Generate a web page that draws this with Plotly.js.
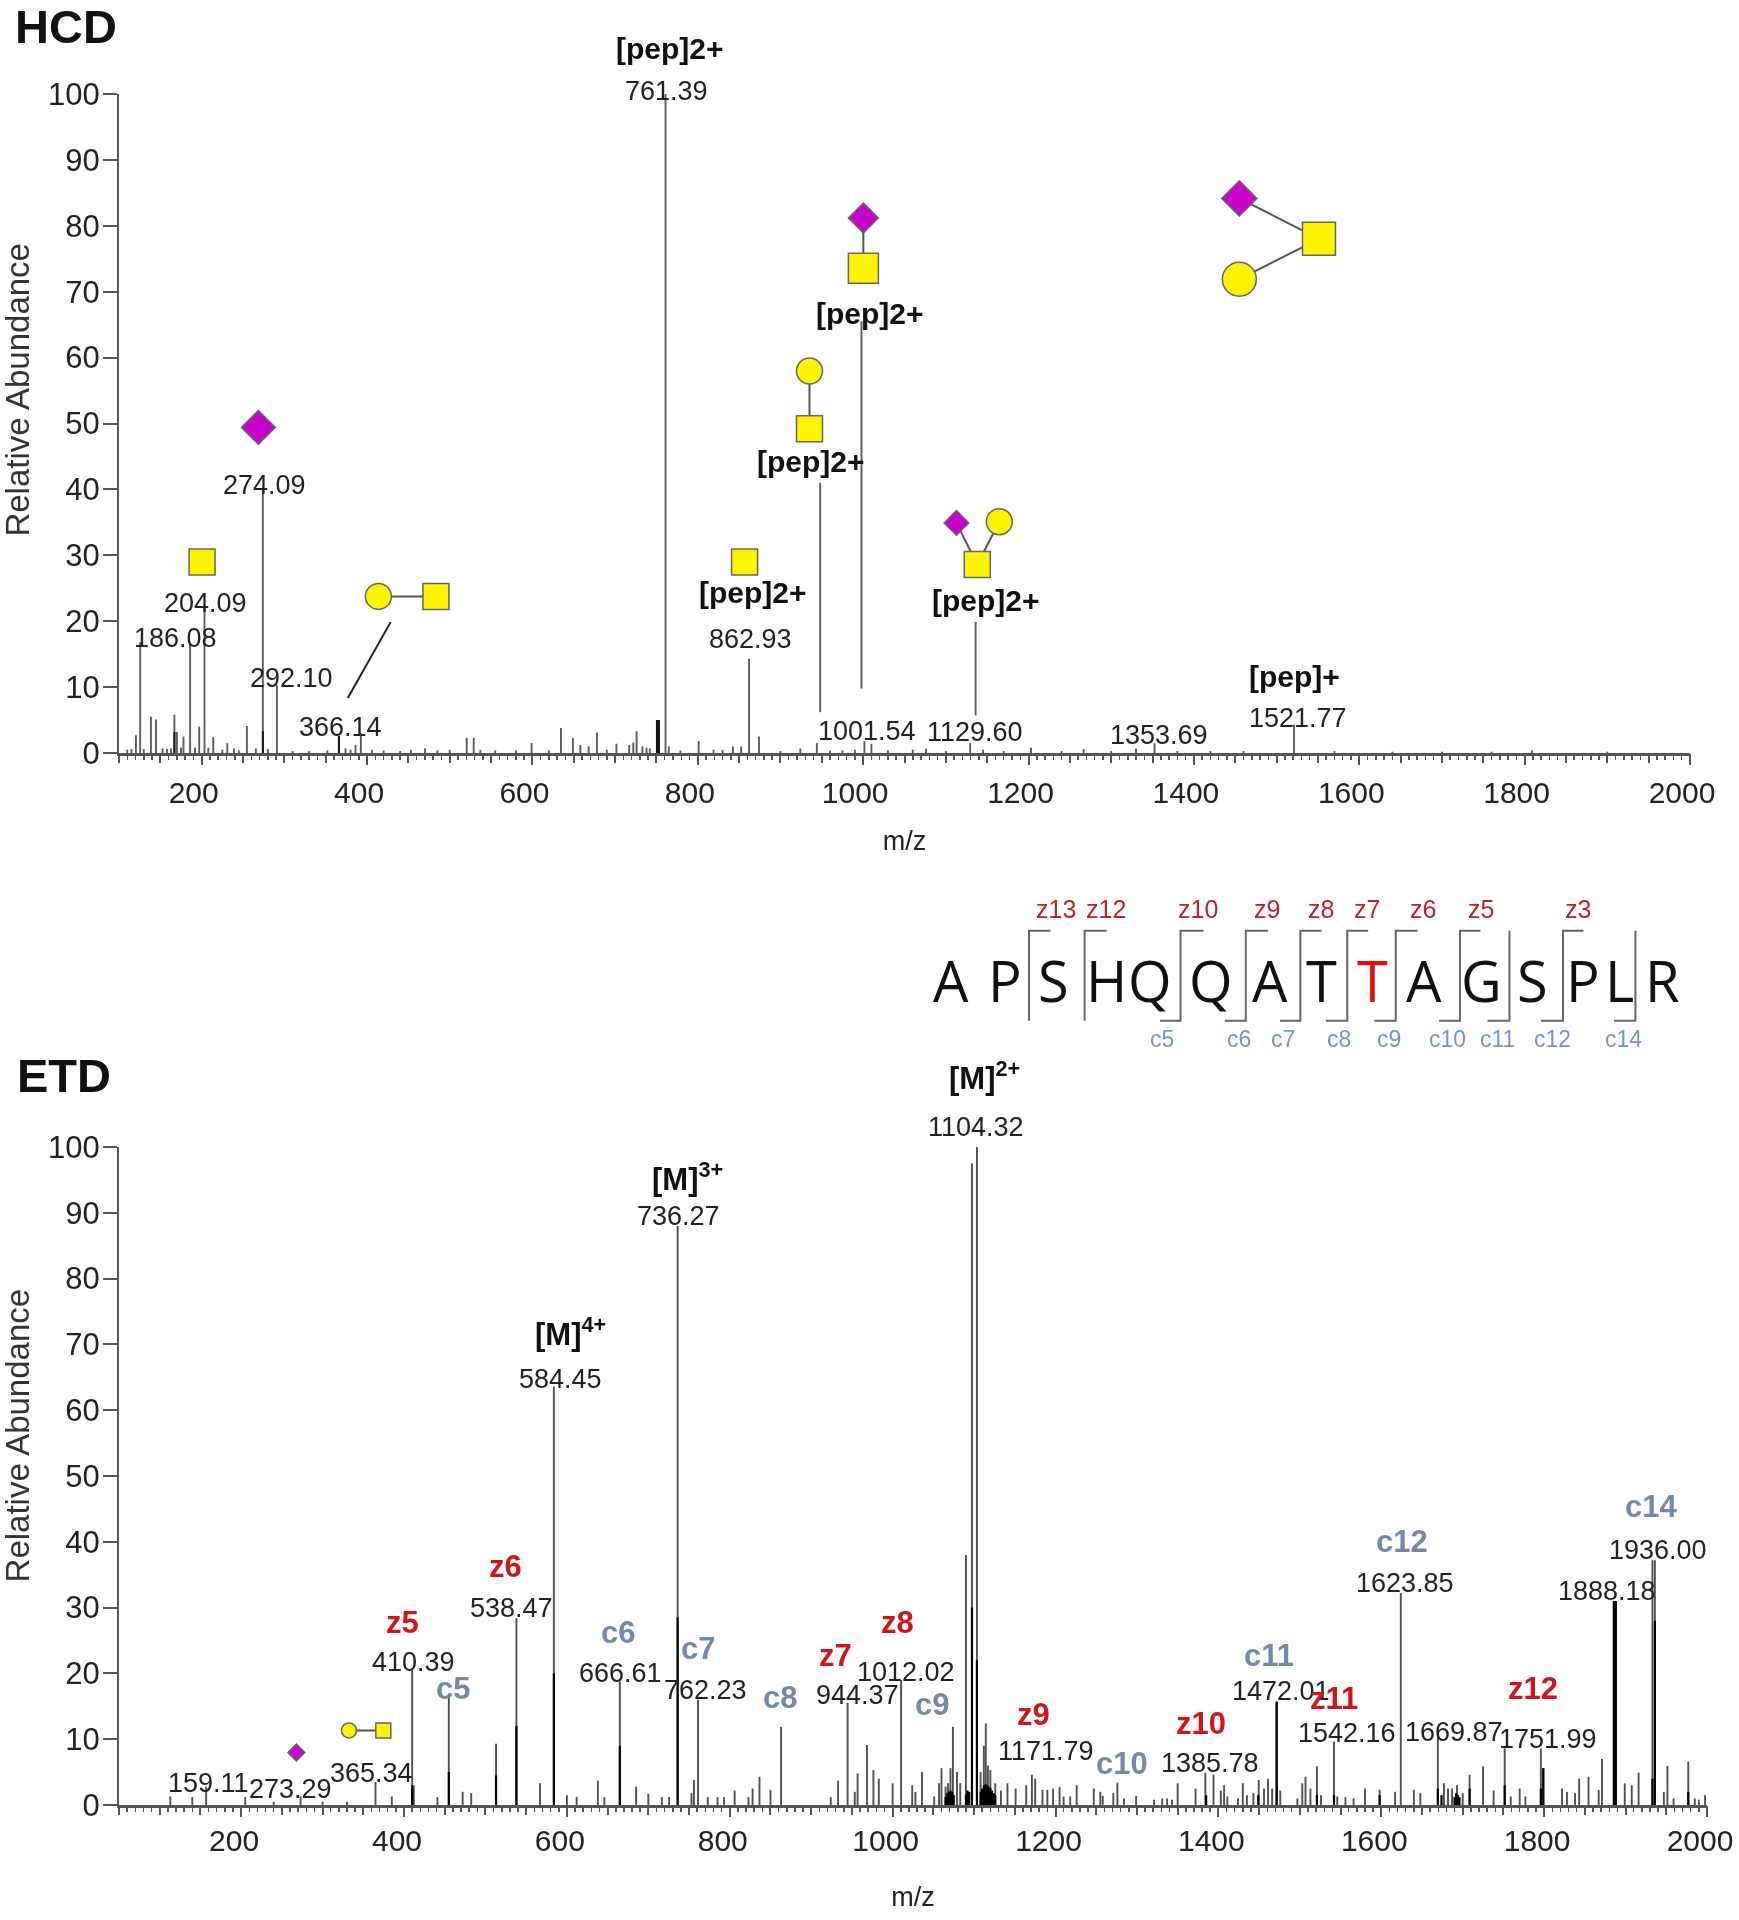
<!DOCTYPE html>
<html>
<head>
<meta charset="utf-8">
<script src="https://cdn.plot.ly/plotly-3.0.1.min.js"></script>
<style>html,body{margin:0;padding:0;background:#fff}#chart{width:1739px;height:1920px;filter:blur(0.45px)}</style>
</head>
<body>
<div id="chart"></div>
<script>
// ---------- HCD spectrum ----------
const hcdMz  = [110,115,120.5,125.6,130,138.6,144.7,152.7,158,163,167,170,175,178,186,192,197,203.4,208,214,225,231,239,245,254.7,265.5,274,280,291,310,330,352,366,374,380,386,392.5,406,420,440,453,470,485,500,520.5,529,537,555,580,599,620,634.5,649,658,668,678,690,701.6,717,722,726,733,738,742,750.6,753,761,765,779,801,819,830,842.5,852.5,862,874,900,924,944,960,975,990,1001.5,1010,1030,1060,1076,1100,1129.4,1145,1170,1203,1240,1266.7,1300,1330,1352.4,1380,1420,1460,1521,1570,1640,1700,1760,1809,1900];
const hcdInt = [0.5,0.6,2.7,16.8,0.6,5.5,5.1,0.7,0.6,0.7,5.8,3.2,0.8,2.5,16.6,0.8,4,22,0.8,2.4,0.5,1.5,0.7,0.4,4.1,0.7,40,0.6,10.3,0.3,0.3,0.4,2.6,0.7,0.5,1.2,3,0.5,0.4,0.3,0.5,0.7,0.4,0.5,2.3,2.3,0.5,0.4,0.4,1.5,0.4,3.8,2.3,1.2,1,3.1,0.5,1.4,1.2,1.6,3.3,1,0.8,0.7,5,5,100,1,0.4,1.8,0.5,0.5,1,1,14.3,2.5,0.3,0.7,1.5,0.4,0.4,0.5,1.8,1.4,0.4,0.5,0.7,0.3,1.5,0.5,0.3,0.8,0.3,0.6,0.3,0.7,1.5,0.3,0.3,0.3,4.3,0.3,0.2,0.2,0.2,0.4,0.2];
const hcdStrongMz  = [167,274,366,750.6,753];
const hcdStrongInt = [3.2,3.3,2.6,5,5];
const hcdCutMz   = [948,998,1136];
const hcdCutLow  = [6.2,9.8,5.7];
const hcdCutHigh = [41,65.5,19.9];

// ---------- ETD spectrum ----------
const etdMz  = [113,140,157,205,240,273,300,330,365,385,410,412,441,455,472,482.5,513,538,567,584,600,612,638,646,665,685,700,716.6,725.5,736,753,756,761,773,785,793,806,823,828,836.5,850,863,924,933,944.7,953.5,957,968.5,976.4,983,1000,1010.4,1024,1028,1036,1051,1057,1060,1065,1068,1071,1074,1079,1083,1090,1097.4,1103.5,1108,1112,1114.4,1117,1120,1126,1133,1141,1151,1164,1171,1175,1184,1190,1197,1205,1210,1218,1226,1247,1255,1258,1271,1276,1284,1299,1321,1331,1337,1343,1350,1372,1384,1394,1403,1407,1411,1424,1430,1435,1443,1449.5,1456,1461,1466,1472,1476,1497,1503,1507,1513,1521,1526,1542,1546,1556,1566,1580,1598,1617,1624,1640,1648,1669.5,1677,1682,1687,1693,1700,1708.5,1725,1738,1751.6,1759,1770,1777,1796,1799,1822,1828,1838,1843,1854.5,1867,1871,1885.6,1888,1899,1907.6,1916,1933,1936,1947,1951.4,1959,1977,1985,1990,1997.6];
const etdInt = [1.3,1.2,2.8,1.2,0.5,1.3,0.5,0.5,3.5,1.3,20.8,3,1.2,16.5,2,1.8,9.3,28.4,3.3,63.6,1.5,1.2,3.7,1.2,18.8,2.8,1.7,1.2,1.2,88,1.8,3.8,16,1.2,1.2,1.2,2.2,1.2,2.5,4.3,2.3,11.9,1.2,3.7,15.5,2,4.8,9.1,5.3,4,3.3,19,3,2,5,1.3,3.3,5.6,2.8,3.3,5.6,11.9,5,3.3,38,97.5,100,5,9,12.4,6,5.3,3.3,2.2,3.3,2.5,3,4.6,4,2.3,2.3,2.5,2.7,1.3,1.3,3,2.5,2,1.4,1.8,3.4,1,1.4,0.8,1,1,0.8,3.3,2.5,4.9,4.6,2.2,3,1.3,1,3.3,1.5,1.8,3.8,2.5,4,2.5,15.7,2.2,1,3.3,4.3,2.5,5.9,1.5,9.6,1.3,1.2,1,2.5,2.3,2,32.2,2.3,1.8,10.4,3.3,2.5,2.5,3,1.8,4.6,5.9,2.2,8.6,1.3,2.5,1.3,8.6,5.6,2.5,2,1.8,4,4.3,2.3,7,31,31,3.3,3,4.9,37.2,37.2,2,5.9,1,6.6,1,0.8,1.5];
const etdStrongMz  = [410,455,513,538,584,665,736,1065,1067,1069,1071,1073,1075,1090,1092,1094,1097.4,1103.5,1108,1110,1112,1114,1116,1118,1120,1122,1124,1126,1471.4,1385,1449,1521,1542,1598,1669.5,1674,1690,1692,1694,1696,1708.5,1751.6,1796,1799,1885.6,1888,1933,1936,1977];
const etdStrongInt = [3,5,4.5,12,20,9,28.5,1.2,1.8,2,2.2,2,1.5,1.6,2.2,2,30,22,2,2.5,3,3.2,3,2.8,2.6,2.2,1.8,1.5,15.7,1.5,1.5,1.5,1.5,1.5,2.5,1.5,1.2,1.8,1.5,1.2,2.5,3,2.5,5.6,31,31,4,28,2];

// ---------- Labels ----------
const hcdNumbers = ['761.39','274.09','204.09','186.08','292.10','366.14','862.93','1001.54','1129.60','1353.69','1521.77'];
const hcdPep     = ['[pep]2+','[pep]2+','[pep]2+','[pep]2+','[pep]2+','[pep]+'];
const etdNumbers = ['1104.32','736.27','584.45','410.39','538.47','666.61','762.23','944.37','1012.02','1171.79','1385.78','1472.01','1542.16','1669.87','1623.85','1751.99','1936.00','1888.18','159.11','273.29','365.34'];
const etdCharge  = ['[M]<sup>2+</sup>','[M]<sup>3+</sup>','[M]<sup>4+</sup>'];
const etdZ = ['z5','z6','z7','z8','z9','z10','z11','z12'];
const etdC = ['c5','c6','c7','c8','c9','c10','c11','c12','c14'];
const seqLetters = ['A','P','S','H','Q','Q','A','T','T','A','G','S','P','L','R'];
const seqZ = ['z13','z12','z10','z9','z8','z7','z6','z5','z3'];
const seqC = ['c5','c6','c7','c8','c9','c10','c11','c12','c14'];

// ---------- helpers ----------
const FONT='Liberation Sans, Arial, sans-serif';
const S=1739/1420; // positions below were measured on the 1420-wide view
function stems(mz,vals,low){const x=[],y=[];mz.forEach((m,i)=>{x.push(m,m,null);y.push(low?low[i]:0,vals[i],null)});return {x,y}}
function stemTrace(d,color,w,xa,ya){return {type:'scatter',mode:'lines',x:d.x,y:d.y,xaxis:xa,yaxis:ya,hoverinfo:'skip',showlegend:false,line:{color:color,width:w}}}
const ann=[];
function label(text,cx,cy,size,color,bold,extra){ann.push(Object.assign({xref:'x3',yref:'y3',x:cx*S,y:cy*S,text:bold?'<b>'+text+'</b>':text,showarrow:false,xanchor:'center',yanchor:'middle',font:{family:FONT,size:size,color:color}},extra||{}))}

// ---------- text placement ----------
const NUM='#222',NS=27;
[[544,74],[216,396],[168,492],[143,521],[238,554],[278,594],[613,522],[708,597],[796,598],[946,600],[1060,586]].forEach((p,i)=>label(hcdNumbers[i],p[0],p[1],NS,NUM));
[[547,40],[710,256],[662,377],[615,484],[805,490],[1057,552]].forEach((p,i)=>label(hcdPep[i],p[0],p[1],30,'#111',true));
[[797,920],[554,993],[458,1126],[338,1357],[418,1313],[507,1366],[576,1380],[700,1384],[740,1365],[854,1430],[988,1440],[1046,1381],[1100,1415],[1187,1414],[1147,1293],[1264,1420],[1354,1266],[1312,1299],[170,1456],[237,1461],[303,1448]].forEach((p,i)=>label(etdNumbers[i],p[0],p[1],NS,NUM));
[[804,879],[561,961],[466,1088]].forEach((p,i)=>label(etdCharge[i],p[0],p[1],31,'#111',true));
[[329,1325],[413,1279],[682,1352],[733,1325],[844,1400],[981,1407],[1089,1387],[1252,1379]].forEach((p,i)=>label(etdZ[i],p[0],p[1],31,'#d0141c',true));
[[370,1379],[505,1333],[570,1346],[637,1386],[761,1392],[916,1440],[1036,1352],[1145,1259],[1348,1230]].forEach((p,i)=>label(etdC[i],p[0],p[1],31,'#7488a8',true));
label('<b>HCD</b>',54,22,47,'#111',false);
label('<b>ETD</b>',52,878,47,'#111',false);
label('Relative Abundance',14,318,33,'#333',false,{textangle:-90});
label('Relative Abundance',14,1172,33,'#333',false,{textangle:-90});

// sequence (measured on the full-size picture)
const seqX=[951,1004.6,1053,1106.6,1150,1211,1270,1321,1372,1424,1481,1532,1583,1619,1662];
seqLetters.forEach((c,i)=>ann.push({xref:'x3',yref:'y3',x:seqX[i],y:980,text:c,showarrow:false,xanchor:'center',yanchor:'middle',font:{family:'Open Sans, sans-serif',size:56,color:i===8?'#e01010':'#111'}}));
const seqZx=[305,403,585,720,825,915,1025,1140,1330];
seqZ.forEach((c,i)=>ann.push({xref:'x3',yref:'y3',x:900+seqZx[i]*0.51,y:909,text:c,showarrow:false,font:{family:FONT,size:25,color:'#b8242c'}}));
const seqCx=[513,665,750,860,958,1073,1172,1280,1418];
seqC.forEach((c,i)=>ann.push({xref:'x3',yref:'y3',x:900+seqCx[i]*0.51,y:1039,text:c,showarrow:false,font:{family:FONT,size:23,color:'#6f97cc'}}));

// bracket geometry: vertical position, end of top bar, start of bottom bar
const br=[[253,295,null],[362,405,null],[550,595,510],[678,722,637],[785,827,745],[877,918,835],[972,1015,930],[1098,1138,1057],[1195,null,1152],[1300,1340,1257],[1442,null,1400]];
const bx=[],by=[];
br.forEach(b=>{const X=z=>900+z*0.51,top=880+152/3,bot=880+422/3;
  if(b[1]!==null){bx.push(X(b[1]),X(b[0]))}else{bx.push(X(b[0]))}
  by.push(...(b[1]!==null?[top,top]:[top]));
  if(b[2]!==null){bx.push(X(b[0]),X(b[2]));by.push(bot,bot)}else{bx.push(X(b[0]));by.push(bot)}
  bx.push(null);by.push(null);});

// glycan icons
const YEL='#fff400',MAG='#cc00cc',EDGE='#666';
function icon(sym,list,size,color){return {type:'scatter',mode:'markers',x:list.map(p=>p[0]*S),y:list.map(p=>p[1]*S),xaxis:'x3',yaxis:'y3',hoverinfo:'skip',showlegend:false,marker:{symbol:sym,size:size,color:color,line:{color:EDGE,width:1.5}}}}
function link(list,color,w){const x=[],y=[];list.forEach(s=>{x.push(s[0]*S,s[2]*S,null);y.push(s[1]*S,s[3]*S,null)});return {type:'scatter',mode:'lines',x,y,xaxis:'x3',yaxis:'y3',hoverinfo:'skip',showlegend:false,line:{color:color,width:w}}}

const glyLinks=link([[309,487,356,487],[661,303,661,350],[705,178,705,219],[781,427,798,461],[816,426,798,461],[1012,162,1077,195],[1012,228,1077,195],[285,1413,313,1413]],'#555',2);
const leader=link([[319,508,284,570]],'#222',2);

const traces=[
 {type:'scatter',mode:'lines',x:[],y:[],xaxis:'x4',yaxis:'y',hoverinfo:'skip',showlegend:false},
 {type:'scatter',mode:'lines',x:[],y:[],xaxis:'x5',yaxis:'y2',hoverinfo:'skip',showlegend:false},
 stemTrace(stems(hcdMz,hcdInt),'#5c5c5c',1.9,'x','y'),
 stemTrace(stems(hcdCutMz,hcdCutHigh,hcdCutLow),'#5c5c5c',1.9,'x','y'),
 stemTrace(stems(hcdStrongMz,hcdStrongInt),'#111',2,'x','y'),
 stemTrace(stems(etdMz,etdInt),'#505050',1.9,'x2','y2'),
 stemTrace(stems(etdStrongMz,etdStrongInt),'#000',2.2,'x2','y2'),
 {type:'scatter',mode:'lines',x:bx,y:by,xaxis:'x3',yaxis:'y3',hoverinfo:'skip',showlegend:false,line:{color:'#666',width:2}},
 glyLinks,leader,
 icon('square',[[165,459],[608,459],[356,487],[661,350],[798,461]],26,YEL),
 icon('square',[[705,219]],30,YEL),
 icon('square',[[1077,195]],33,YEL),
 icon('square',[[313,1413]],15,YEL),
 icon('circle',[[309,487],[661,303],[816,426]],26,YEL),
 icon('circle',[[1012,228]],34,YEL),
 icon('circle',[[285,1413]],15,YEL),
 icon('diamond',[[211,349]],26,MAG),
 icon('diamond',[[705,178]],23,MAG),
 icon('diamond',[[781,427]],19,MAG),
 icon('diamond',[[1012,162]],27,MAG),
 icon('diamond',[[242,1431]],13,MAG)
];

const W=1739,H=1920,AX='#555';
function xAxis(start,end,left,right,anchor,shift,standoff,titleStandoff){
 return {anchor,domain:[left/W,right/W],range:[start,end],showline:true,linecolor:AX,linewidth:2.5,ticks:'outside',ticklen:9,tickwidth:2,tickcolor:AX,tickmode:'linear',tick0:0,dtick:200,tickfont:{family:FONT,size:30,color:'#222'},ticklabelshift:shift,ticklabelstandoff:standoff,showgrid:false,zeroline:false,minor:{ticks:'outside',ticklen:4,tickwidth:1.5,tickcolor:AX,tickmode:'linear',tick0:0,dtick:10,showgrid:false},title:{text:'m/z',font:{family:FONT,size:27,color:'#222'},standoff:titleStandoff}}}
function midAxis(start,end,over,anchor){return {overlaying:over,anchor,range:[start,end],showline:false,ticks:'outside',ticklen:9,tickwidth:2,tickcolor:AX,tickmode:'linear',tick0:0,dtick:50,showticklabels:false,showgrid:false,zeroline:false}}
function yAxis(top,bottom,anchor){return {anchor,domain:[1-bottom/H,1-top/H],range:[0,100],dtick:10,tick0:0,showline:true,linecolor:AX,linewidth:2,ticks:'outside',ticklen:14,tickwidth:2,tickcolor:AX,tickfont:{family:FONT,size:31,color:'#222'},ticklabelstandoff:-3,showgrid:false,zeroline:false}}

const layout={width:W,height:H,autosize:false,margin:{l:0,r:0,t:0,b:0,pad:0},paper_bgcolor:'#fff',plot_bgcolor:'rgba(0,0,0,0)',showlegend:false,
 xaxis:xAxis(100,2000,119,1690,'y',-8,2,24),
 yaxis:yAxis(94,753,'x'),
 xaxis2:xAxis(50,2000,119,1707,'y2',-7,-2,32),
 yaxis2:yAxis(1147,1805,'x2'),
 xaxis3:{anchor:'y3',domain:[0,1],range:[0,W],visible:false,fixedrange:true},
 yaxis3:{anchor:'x3',domain:[0,1],range:[H,0],visible:false,fixedrange:true},
 xaxis4:midAxis(100,2000,'x','y'),
 xaxis5:midAxis(50,2000,'x2','y2'),
 annotations:ann};
Plotly.newPlot('chart',traces,layout,{displayModeBar:false,staticPlot:true});
</script>
</body>
</html>
